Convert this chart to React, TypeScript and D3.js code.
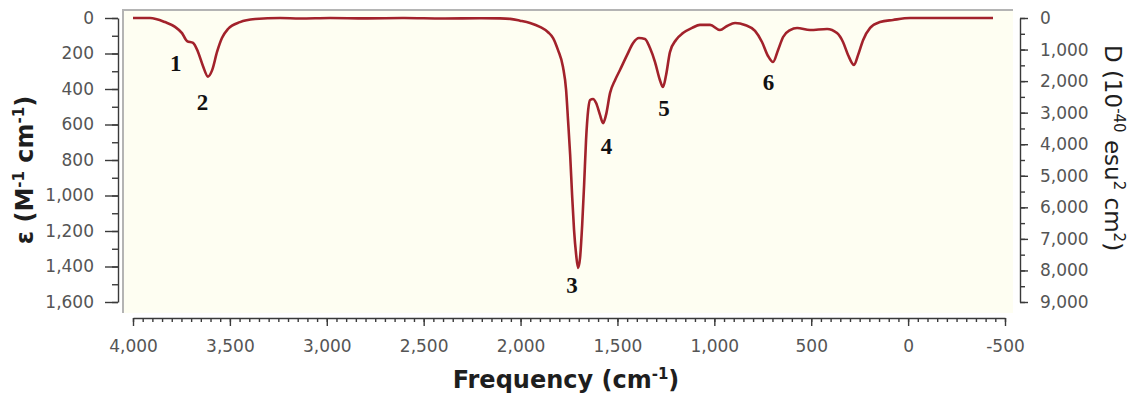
import React, { useEffect, useRef } from "react";
import * as d3 from "d3";

// spectrum: [frequency cm-1, epsilon]
const freq = [
  4000, 3912, 3835, 3783, 3747, 3721, 3690, 3665, 3639, 3613, 3592, 3566, 3541, 3510, 3448, 3370,
  3241, 3138, 2983, 2800, 2600, 2400, 2200, 2106, 2054, 2003, 1951, 1900, 1858, 1832, 1807, 1781,
  1765, 1755, 1744, 1734, 1724, 1713, 1703, 1693, 1682, 1672, 1662, 1651, 1641, 1626, 1610, 1590,
  1574, 1559, 1538, 1512, 1487, 1450, 1419, 1389, 1358, 1332, 1306, 1281, 1265, 1249, 1229, 1198,
  1162, 1115, 1074, 1022, 971, 934, 893, 842, 790, 754, 723, 697, 671, 645, 609, 573,
  506, 418, 367, 336, 310, 279, 258, 232, 196, 145, 78, -10, -200, -438,
];
const epsilon = [
  0, 0, 23, 50, 85, 130, 140, 190, 270, 330, 295, 190, 113, 62, 23, 6,
  0, 3, 0, 2, 0, 3, 1, 2, 5, 15, 28, 50, 80, 113, 180, 276,
  405, 575, 772, 997, 1194, 1335, 1408, 1352, 1166, 940, 687, 518, 462, 456, 479, 546,
  592, 546, 422, 349, 293, 208, 141, 113, 118, 169, 248, 349, 389, 321, 192, 124,
  85, 56, 39, 39, 68, 45, 28, 39, 73, 135, 214, 248, 180, 107, 68, 56,
  68, 62, 85, 135, 208, 265, 208, 124, 56, 23, 11, 0, 0, 0,
];

const peakNames = ["1", "2", "3", "4", "5", "6"];
const peakFreq = [3780, 3641, 1734, 1557, 1260, 721];
const peakEps = [255, 478, 1505, 725, 510, 363];

const xTicks = [4000, 3500, 3000, 2500, 2000, 1500, 1000, 500, 0, -500];
const leftTicks = [0, 200, 400, 600, 800, 1000, 1200, 1400, 1600];
const rightTicks = [0, 1000, 2000, 3000, 4000, 5000, 6000, 7000, 8000, 9000];

const fmt = (d: number) => d3.format(",")(d).replace("\u2212", "-");

const App = () => {
  const ref = useRef<SVGSVGElement>(null);

  useEffect(() => {
    const svg = d3.select(ref.current);
    svg.selectAll("*").remove();

    const W = 1136;
    const H = 396;
    const x = d3.scaleLinear().domain([4000, -500]).range([133, 1005]);
    const y = d3.scaleLinear().domain([0, 1600]).range([18, 302]);
    const yR = d3.scaleLinear().domain([0, 9000]).range([18, 302]);

    svg.attr("width", W).attr("height", H);

    // plot background
    svg.append("rect").attr("x", 123).attr("y", 10).attr("width", 890).attr("height", 303)
      .attr("fill", "#fefef2");
    svg.append("path").attr("d", "M123,313V10H1013").attr("fill", "none")
      .attr("stroke", "#b4b4b4").attr("stroke-width", 2);

    const tickFont = "'DejaVu Sans', Verdana, sans-serif";
    const styleAxis = (g: any) => {
      g.selectAll("path,line").attr("stroke", "#3a3a3a").attr("stroke-width", 1.4);
      g.selectAll("text").attr("fill", "#555").attr("font-size", 17).attr("font-family", tickFont);
    };

    // left axis
    const gl = svg.append("g").attr("transform", "translate(118,0)");
    gl.call(d3.axisLeft(y).tickValues(d3.range(0, 1601, 100)).tickSize(6).tickSizeOuter(0).tickFormat(() => ""));
    gl.append("g").call(d3.axisLeft(y).tickValues(leftTicks).tickSize(13).tickSizeOuter(0).tickPadding(11).tickFormat(fmt as any))
      .call((g: any) => g.select(".domain").remove());
    styleAxis(gl);

    // right axis
    const gr = svg.append("g").attr("transform", "translate(1020,0)");
    gr.call(d3.axisRight(yR).tickValues(d3.range(0, 9001, 500)).tickSize(5).tickSizeOuter(0).tickFormat(() => ""));
    gr.append("g").call(d3.axisRight(yR).tickValues(rightTicks).tickSize(8).tickSizeOuter(0).tickPadding(12).tickFormat(fmt as any))
      .call((g: any) => g.select(".domain").remove());
    styleAxis(gr);

    // bottom axis
    const gb = svg.append("g").attr("transform", "translate(0,318)");
    gb.call(d3.axisBottom(x).tickValues(d3.range(4000, -501, -50)).tickSize(4).tickSizeOuter(0).tickFormat(() => ""));
    gb.append("g").call(d3.axisBottom(x).tickValues(xTicks).tickSize(8).tickSizeOuter(0).tickPadding(14).tickFormat(fmt as any))
      .call((g: any) => g.select(".domain").remove());
    styleAxis(gb);

    // spectrum
    const pts: [number, number][] = freq.map((f, i) => [f, epsilon[i]]);
    const line = d3.line<[number, number]>()
      .x(d => x(d[0]))
      .y(d => y(d[1]))
      .curve(d3.curveMonotoneX);
    svg.append("path").datum(pts).attr("d", line).attr("fill", "none")
      .attr("stroke", "#a2222b").attr("stroke-width", 2.6).attr("stroke-linejoin", "round");

    // peak numbers
    svg.append("g").selectAll("text").data(peakNames).enter().append("text")
      .attr("x", (d, i) => x(peakFreq[i]))
      .attr("y", (d, i) => y(peakEps[i]))
      .attr("text-anchor", "middle")
      .attr("dominant-baseline", "central")
      .attr("font-family", "'Liberation Serif', 'Times New Roman', serif")
      .attr("font-weight", "bold")
      .attr("font-size", 23)
      .attr("fill", "#111")
      .text(d => d);

    const titleFont = "'DejaVu Sans', Verdana, sans-serif";

    // x title
    const xt = svg.append("text").attr("x", 566).attr("y", 388).attr("text-anchor", "middle")
      .attr("font-family", titleFont).attr("font-weight", "bold").attr("font-size", 24).attr("fill", "#1e1e1e");
    xt.append("tspan").text("Frequency (cm");
    xt.append("tspan").attr("dy", -9).attr("font-size", 15).text("-1");
    xt.append("tspan").attr("dy", 9).text(")");

    // left title
    const lt = svg.append("text").attr("transform", "translate(33,170) rotate(-90)").attr("text-anchor", "middle")
      .attr("font-family", titleFont).attr("font-weight", "bold").attr("font-size", 24).attr("fill", "#1e1e1e");
    lt.append("tspan").text("ε (M");
    lt.append("tspan").attr("dy", -9).attr("font-size", 15).text("-1");
    lt.append("tspan").attr("dy", 9).text(" cm");
    lt.append("tspan").attr("dy", -9).attr("font-size", 15).text("-1");
    lt.append("tspan").attr("dy", 9).text(")");

    // right title
    const rt = svg.append("text").attr("transform", "translate(1105,148) rotate(90)").attr("text-anchor", "middle")
      .attr("font-family", titleFont).attr("font-size", 23).attr("fill", "#1e1e1e");
    rt.append("tspan").text("D (10");
    rt.append("tspan").attr("dy", -9).attr("font-size", 15).text("-40");
    rt.append("tspan").attr("dy", 9).text(" esu");
    rt.append("tspan").attr("dy", -9).attr("font-size", 15).text("2");
    rt.append("tspan").attr("dy", 9).text(" cm");
    rt.append("tspan").attr("dy", -9).attr("font-size", 15).text("2");
    rt.append("tspan").attr("dy", 9).text(")");
  }, []);

  return (
    <div style={{ position: "absolute", left: 0, top: 0, background: "#fff" }}>
      <svg ref={ref} style={{ display: "block" }}></svg>
    </div>
  );
};

export default App;
